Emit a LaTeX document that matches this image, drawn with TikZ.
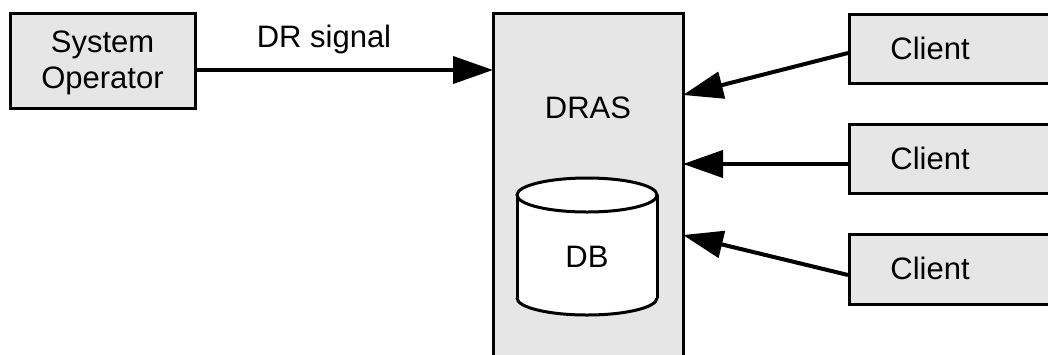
\documentclass[tikz,border=0pt]{standalone}
\usepackage{fontspec}
\setmainfont{Liberation Sans}
\usetikzlibrary{arrows.meta}
\definecolor{boxgray}{HTML}{E6E6E6}
\begin{document}
\begin{tikzpicture}[x=1pt,y=-1pt,
  box/.style={draw=black,line width=3pt,fill=boxgray,inner sep=0pt},
  lbl/.style={font=\fontsize{31}{36}\selectfont,align=center,inner sep=0pt},
  conn/.style={line width=4pt,-{Triangle[length=40pt,width=27pt]}}]
\useasboundingbox (0,0) rectangle (1048,354);
\clip (0,0) rectangle (1048,354);
\fill[white] (0,0) rectangle (1048,354);
% boxes
\node[box,minimum width=185pt,minimum height=95pt] (so) at (102.5,60.5) {};
\node[lbl] (sot) at (102.5,63) {System\\Operator};
\draw[box] (493,13) rectangle (683,370);
\coordinate (drasL) at (493,70);
\coordinate (drasR1) at (683,95);
\coordinate (drasR2) at (683,164);
\coordinate (drasR3) at (683,235);
\node[lbl] (dras) at (588,108) {DRAS};
\node[box,anchor=north west,minimum width=230pt,minimum height=69pt] (c1) at (848,13) {};
\node[box,anchor=north west,minimum width=230pt,minimum height=69pt] (c2) at (848,123) {};
\node[box,anchor=north west,minimum width=230pt,minimum height=70pt] (c3) at (848,233) {};
\node[lbl] at (930,48) {Client};
\node[lbl] at (930,158) {Client};
\node[lbl] at (930,268) {Client};
% cylinder
\fill[white] (517,195) rectangle (657,298);
\fill[white] (587,298) ellipse [x radius=70,y radius=17];
\begin{scope}
  \clip (505,298) rectangle (670,330);
  \draw[line width=3pt] (587,298) ellipse [x radius=70,y radius=17];
\end{scope}
\draw[line width=3pt] (517,195) -- (517,298) (657,195) -- (657,298);
\draw[line width=3pt,fill=white] (587,195) ellipse [x radius=70,y radius=17];
\node[lbl] (db) at (587,257) {DB};
% connectors
\draw[conn] (so.east |- drasL) -- (drasL) node[pos=0.43,above=14pt,lbl] (drl) {DR signal};
\draw[conn] (c1.west |- 0,53) -- (drasR1);
\draw[conn] (c2.west |- 0,164) -- (drasR2);
\draw[conn] (c3.west |- 0,275) -- (drasR3);
\end{tikzpicture}
\end{document}
